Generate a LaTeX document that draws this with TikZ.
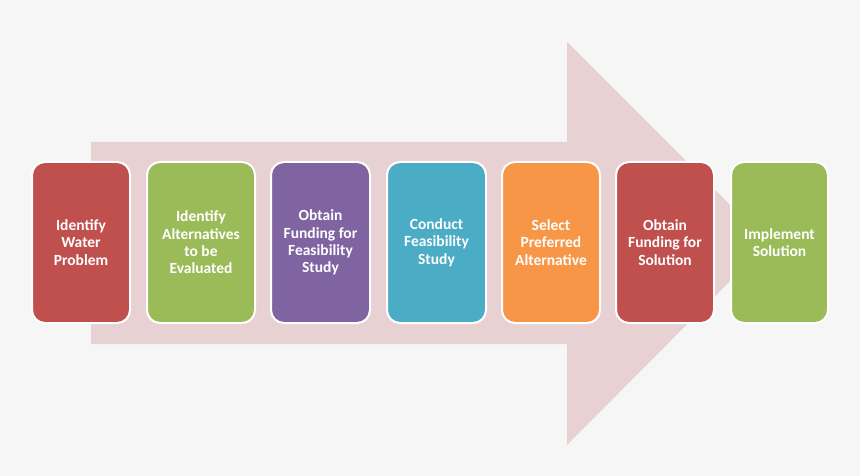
\documentclass[tikz,border=0pt]{standalone}
\usepackage{fontspec}
\setmainfont{Carlito}
\begin{document}
\begin{tikzpicture}[x=1pt,y=-1pt,
  stepbox/.style={draw=white,line width=2pt,rounded corners=13pt,text=white,
    font=\bfseries\fontsize{15.5}{17.3}\selectfont,align=center,inner sep=0pt,
    minimum height=161pt}]
\definecolor{bgc}{HTML}{F6F6F6}
\definecolor{arr}{HTML}{E8D1D2}
\definecolor{cred}{HTML}{C0504D}
\definecolor{cgreen}{HTML}{9BBB59}
\definecolor{cpurple}{HTML}{8064A2}
\definecolor{cblue}{HTML}{4BACC6}
\definecolor{corange}{HTML}{F79646}
\fill[bgc] (0,0) rectangle (860,476);
\useasboundingbox (0,0) rectangle (860,476);
\fill[arr] (91,142) -- (567,142) -- (567,42) -- (768,243) -- (567,445) -- (567,344) -- (91,344) -- cycle;
\foreach \n/\xa/\xb/\c/\t in {
  b1/32/130/cred/{Identify\\Water\\Problem},
  b2/147/255/cgreen/{Identify\\Alternatives\\to be\\Evaluated},
  b3/271/370/cpurple/{Obtain\\Funding for\\Feasibility\\Study},
  b4/387/486/cblue/{Conduct\\Feasibility\\Study},
  b5/502/600/corange/{Select\\Preferred\\Alternative},
  b6/616/714/cred/{Obtain\\Funding for\\Solution},
  b7/731/828/cgreen/{Implement\\Solution}}{
  \node[stepbox,fill=\c,minimum width={(\xb-\xa)*1pt}] (\n) at ({(\xa+\xb)/2},242.5) {\t};
}
\end{tikzpicture}
\end{document}
